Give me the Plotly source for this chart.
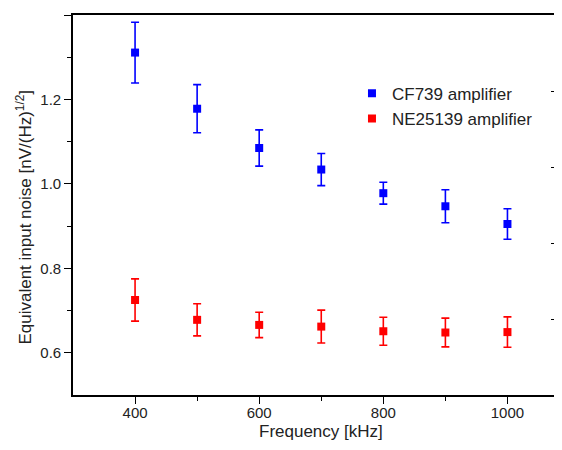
import plotly.graph_objects as go

# frequencies (kHz)
freq = [400, 500, 600, 700, 800, 900, 1000]

# CF739 amplifier: noise and error
cf739_noise = [1.311, 1.178, 1.085, 1.034, 0.978, 0.947, 0.905]
cf739_err = [0.072, 0.057, 0.043, 0.038, 0.026, 0.039, 0.036]

# NE25139 amplifier: noise and error
ne25139_noise = [0.725, 0.678, 0.666, 0.662, 0.651, 0.648, 0.649]
ne25139_err = [0.050, 0.038, 0.030, 0.039, 0.033, 0.034, 0.036]

FONT = "Liberation Sans, Arial, sans-serif"
TEXT = "#222"


def series(x, y, err, color, name):
    return go.Scatter(
        x=x, y=y, name=name, mode="markers",
        marker=dict(symbol="square", size=8, color=color),
        error_y=dict(type="data", array=err, visible=True,
                     color=color, thickness=1.6, width=4),
    )


fig = go.Figure()
fig.add_trace(series(freq, cf739_noise, cf739_err, "#0000ff", "CF739 amplifier"))
fig.add_trace(series(freq, ne25139_noise, ne25139_err, "#ff0000", "NE25139 amplifier"))
# hidden copy on the secondary y axis, only so the right tick axis gets drawn
fig.add_trace(go.Scatter(x=freq, y=cf739_noise, xaxis="x", yaxis="y2",
                         mode="markers", marker=dict(opacity=0),
                         showlegend=False, hoverinfo="skip"))

axis_common = dict(showgrid=False, zeroline=False, linecolor="black",
                   linewidth=1.6, tickcolor="black", tickwidth=1.4,
                   automargin=False)

# the page body adds an 8px margin, so the figure is kept inside the window
fig.update_layout(
    width=546, height=434,
    margin=dict(l=65, r=0, t=7, b=47),
    plot_bgcolor="white", paper_bgcolor="white",
    font=dict(family=FONT, size=15, color=TEXT),
    xaxis=dict(range=[300, 1075], tickvals=[400, 600, 800, 1000],
               ticks="outside", ticklen=7, showline=True, mirror=True,
               ticklabelstandoff=-4,
               minor=dict(tickvals=[500, 700, 900], ticks="outside", ticklen=4,
                          tickcolor="black", tickwidth=1.4),
               **axis_common),
    yaxis=dict(range=[0.5, 1.4], tickvals=[0.6, 0.8, 1.0, 1.2, 1.4],
               tickformat=".1f", ticks="outside", ticklen=7, showline=True,
               minor=dict(tickvals=[0.7, 0.9, 1.1, 1.3], ticks="outside", ticklen=4,
                          tickcolor="black", tickwidth=1.4),
               **axis_common),
    yaxis2=dict(overlaying="y", side="right", anchor="x", range=[0, 5],
                tickvals=[1, 2, 3, 4], ticks="inside", ticklen=3, showline=False,
                showticklabels=False, **axis_common),
    legend=dict(x=0.58, y=0.84, xanchor="left", yanchor="top",
                font=dict(size=17, family=FONT, color=TEXT),
                bgcolor="rgba(0,0,0,0)"),
    showlegend=True,
    annotations=[
        dict(text="Frequency [kHz]", xref="paper", yref="paper",
             x=0.516, y=-0.095, yanchor="middle", showarrow=False,
             font=dict(size=17, family=FONT, color=TEXT)),
        dict(text="Equivalent input noise [nV/(Hz)<sup>1/2</sup>]",
             xref="paper", yref="paper", x=-0.101, y=0.468,
             xanchor="center", yanchor="middle", textangle=-90, showarrow=False,
             font=dict(size=17, family=FONT, color=TEXT)),
    ],
)

fig.write_html("out.html")
